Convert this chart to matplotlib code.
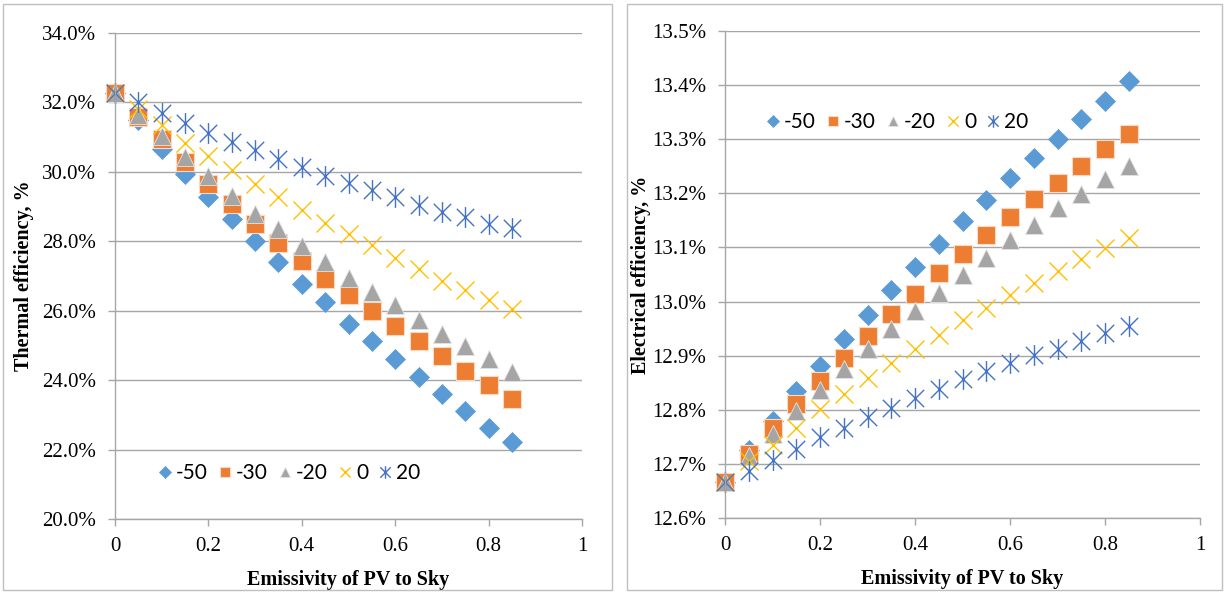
import matplotlib
matplotlib.use("Agg")
import matplotlib.pyplot as plt
from matplotlib.path import Path
from matplotlib.patches import Rectangle
from matplotlib.ticker import FuncFormatter, MultipleLocator

# Emissivity of PV to sky (x values shared by all series)
emissivity = [0.0, 0.05, 0.10, 0.15, 0.20, 0.25, 0.30, 0.35, 0.40,
              0.45, 0.50, 0.55, 0.60, 0.65, 0.70, 0.75, 0.80, 0.85]

series_labels = ["-50", "-30", "-20", "0", "20"]

# Thermal efficiency, %
thermal_m50 = [32.26, 31.50, 30.65, 29.94, 29.29, 28.64, 28.01, 27.39, 26.77,
               26.24, 25.62, 25.12, 24.61, 24.09, 23.61, 23.12, 22.63, 22.22]
thermal_m30 = [32.26, 31.57, 30.95, 30.29, 29.65, 29.07, 28.50, 27.95, 27.44,
               26.92, 26.46, 26.00, 25.57, 25.12, 24.69, 24.26, 23.85, 23.45]
thermal_m20 = [32.26, 31.63, 31.03, 30.43, 29.87, 29.31, 28.80, 28.34, 27.85,
               27.39, 26.93, 26.55, 26.16, 25.72, 25.34, 24.99, 24.61, 24.23]
thermal_0 = [32.26, 31.80, 31.36, 30.83, 30.46, 30.05, 29.64, 29.27, 28.91,
             28.53, 28.20, 27.88, 27.52, 27.19, 26.87, 26.59, 26.32, 26.06]
thermal_20 = [32.26, 32.01, 31.70, 31.41, 31.12, 30.87, 30.62, 30.38, 30.13,
              29.89, 29.67, 29.47, 29.27, 29.05, 28.85, 28.69, 28.50, 28.37]

# Electrical efficiency, %
elec_m50 = [12.666, 12.725, 12.780, 12.834, 12.881, 12.930, 12.975, 13.021, 13.064,
            13.106, 13.149, 13.188, 13.228, 13.265, 13.301, 13.338, 13.371, 13.408]
elec_m30 = [12.666, 12.719, 12.766, 12.811, 12.853, 12.895, 12.937, 12.977, 13.014,
            13.052, 13.088, 13.123, 13.157, 13.190, 13.220, 13.251, 13.282, 13.310]
elec_m20 = [12.666, 12.714, 12.756, 12.797, 12.836, 12.876, 12.913, 12.949, 12.982,
            13.015, 13.049, 13.080, 13.114, 13.142, 13.172, 13.199, 13.227, 13.251]
elec_0 = [12.666, 12.705, 12.735, 12.766, 12.801, 12.829, 12.858, 12.887, 12.913,
          12.939, 12.965, 12.989, 13.012, 13.035, 13.057, 13.078, 13.099, 13.118]
elec_20 = [12.666, 12.686, 12.708, 12.728, 12.749, 12.767, 12.787, 12.804, 12.822,
           12.839, 12.857, 12.871, 12.887, 12.901, 12.913, 12.927, 12.941, 12.955]

# Star marker: an X crossed by a vertical stroke
star = Path([(-0.5, -0.5), (0.5, 0.5), (-0.5, 0.5), (0.5, -0.5), (0, -0.6), (0, 0.6)],
            [Path.MOVETO, Path.LINETO, Path.MOVETO, Path.LINETO, Path.MOVETO, Path.LINETO])

styles = [
    dict(marker="D", ms=10.5, color="#5B9BD5", mec="#5B9BD5", mew=0.5),
    dict(marker="s", ms=12.5, color="#ED7D31", mec="#FBD9C4", mew=0.8),
    dict(marker="^", ms=13, color="#A5A5A5", mec="#E4E4E4", mew=0.6),
    dict(marker="x", ms=13, color="#FFC000", mec="#FFC000", mew=1.0),
    dict(marker=star, ms=15, color="#4472C4", mec="#4472C4", mew=1.0),
]

serif = "Liberation Serif"
grid_c = "#A6A6A6"

plt.rcParams["font.family"] = serif
plt.rcParams["xtick.labelsize"] = 15
plt.rcParams["ytick.labelsize"] = 15

fig = plt.figure(figsize=(12.25, 5.92), dpi=100)

# panel frames
for x0, x1 in [(3, 612), (627, 1222)]:
    fig.patches.append(Rectangle((x0 / 1225, 2 / 592), (x1 - x0) / 1225, 586 / 592,
                                 transform=fig.transFigure, fill=False,
                                 edgecolor="#BFBFBF", linewidth=1.0))


def style_axes(ax, ymin, ymax, ystep, fmt, ylabel, ylabelpad):
    ax.set_xlim(0, 1)
    ax.set_ylim(ymin, ymax)
    ax.xaxis.set_major_locator(MultipleLocator(0.2))
    ax.yaxis.set_major_locator(MultipleLocator(ystep))
    ax.xaxis.set_major_formatter(FuncFormatter(
        lambda v, p: "0" if abs(v) < 1e-9 else ("1" if abs(v - 1) < 1e-9 else f"{v:.1f}")))
    ax.yaxis.set_major_formatter(FuncFormatter(lambda v, p: fmt.format(v)))
    for s in ["top", "right"]:
        ax.spines[s].set_visible(False)
    for s in ["left", "bottom"]:
        ax.spines[s].set_color(grid_c)
        ax.spines[s].set_linewidth(1.0)
    ax.grid(axis="y", color=grid_c, linewidth=1.0)
    ax.set_axisbelow(True)
    ax.tick_params(axis="both", direction="out", color=grid_c, length=5, width=1.0)
    ax.tick_params(axis="y", pad=8.5)
    ax.tick_params(axis="x", pad=8)
    ax.set_xlabel("Emissivity of PV to Sky", fontweight="bold", fontsize=14.5, labelpad=10)
    ax.set_ylabel(ylabel, fontweight="bold", fontsize=14.5, labelpad=ylabelpad)


def draw_series(ax, data):
    for lab, ys, st in zip(series_labels, data, styles):
        ax.plot(emissivity, ys, linestyle="none", label=lab, marker=st["marker"],
                markersize=st["ms"], markerfacecolor=st["color"],
                markeredgecolor=st["mec"], markeredgewidth=st["mew"], clip_on=False)


legend_kw = dict(loc="upper left", ncol=5, frameon=False, handlelength=0.5,
                 handletextpad=0.3, columnspacing=0.55, markerscale=0.6,
                 prop={"family": "Lato", "size": 15})

ax1 = fig.add_axes([115 / 1225, 1 - 519 / 592, (582 - 115) / 1225, (519 - 33) / 592])
draw_series(ax1, [thermal_m50, thermal_m30, thermal_m20, thermal_0, thermal_20])
style_axes(ax1, 20, 34, 2, "{:.1f}%", "Thermal efficiency, %", 6)
ax1.legend(bbox_to_anchor=(0.055, 0.153), **legend_kw)

ax2 = fig.add_axes([725 / 1225, 1 - 518 / 592, (1200 - 725) / 1225, (518 - 31) / 592])
draw_series(ax2, [elec_m50, elec_m30, elec_m20, elec_0, elec_20])
style_axes(ax2, 12.6, 13.5, 0.1, "{:.1f}%", "Electrical efficiency, %", 1)
ax2.legend(bbox_to_anchor=(0.05, 0.872), **legend_kw)

fig.savefig("out.png", dpi=100)
